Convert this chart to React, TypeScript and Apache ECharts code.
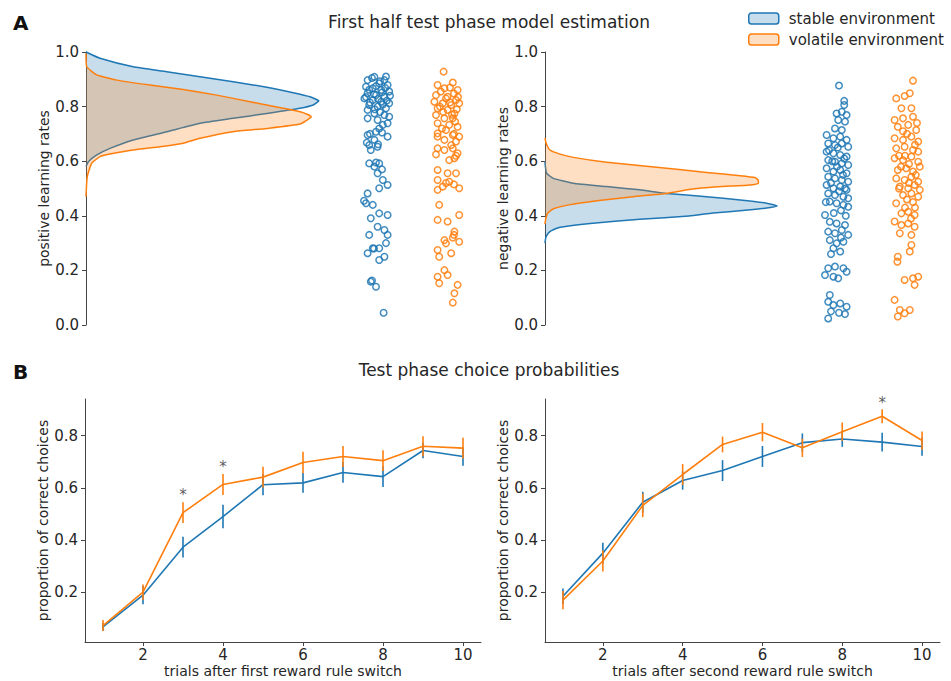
import React, { useEffect, useRef } from "react";
import * as echarts from "echarts";

const BLUE = "#1f77b4";
const ORANGE = "#ff7f0e";
const BLUE_FILL = "rgba(31,119,180,0.25)";
const ORANGE_FILL = "rgba(255,127,14,0.25)";
const FONT = "DejaVu Sans";
const TXT = "#262626";
const AXIS = "#444";

const STABLE = "stable environment";
const VOLATILE = "volatile environment";

// ---- Panel A: KDE curves, [learning rate, density] ----
const posStableKde = [
  [1.0, 0.0], [0.977, 0.35], [0.946, 1.18], [0.928, 2.02], [0.909, 2.85], [0.891, 3.68],
  [0.871, 4.52], [0.851, 5.18], [0.836, 5.6], [0.821, 5.82], [0.806, 5.68], [0.794, 5.35],
  [0.775, 4.52], [0.757, 3.68], [0.739, 2.85], [0.708, 2.02], [0.678, 1.18], [0.647, 0.6],
  [0.623, 0.27], [0.598, 0.06], [0.58, 0.0],
];
const posVolatileKde = [
  [0.995, 0.0], [0.946, 0.02], [0.916, 0.27], [0.897, 0.77], [0.879, 1.6], [0.863, 2.43],
  [0.842, 3.27], [0.818, 4.1], [0.794, 4.93], [0.778, 5.43], [0.763, 5.63], [0.736, 5.35],
  [0.72, 4.52], [0.708, 3.68], [0.684, 2.85], [0.665, 2.4], [0.653, 1.85], [0.641, 1.18],
  [0.626, 0.6], [0.617, 0.35], [0.592, 0.14], [0.543, 0.03], [0.47, 0.0],
];
const negStableKde = [
  [0.6, 0.0], [0.58, 0.01], [0.556, 0.04], [0.537, 0.21], [0.519, 0.71], [0.507, 1.54],
  [0.495, 2.37], [0.482, 3.04], [0.47, 4.04], [0.458, 4.88], [0.446, 5.54], [0.436, 5.8],
  [0.428, 5.5], [0.42, 5.0], [0.41, 4.2], [0.399, 3.6], [0.387, 2.37], [0.372, 1.13],
  [0.358, 0.375], [0.345, 0.15], [0.336, 0.08], [0.32, 0.02], [0.3, 0.0],
];
const negVolatileKde = [
  [0.685, 0.0], [0.665, 0.03], [0.641, 0.125], [0.626, 0.375], [0.614, 0.71], [0.596, 1.54],
  [0.578, 2.79], [0.559, 4.04], [0.547, 4.88], [0.54, 5.25], [0.531, 5.33], [0.519, 5.33],
  [0.513, 5.12], [0.506, 4.3], [0.496, 3.6], [0.482, 3.04], [0.47, 2.2], [0.455, 1.3],
  [0.44, 0.6], [0.425, 0.2], [0.41, 0.07], [0.39, 0.02], [0.37, 0.0],
];

// ---- Panel A: individual estimates, [jitter, learning rate] ----
const posStablePts = [
  [-0.09, 0.909], [-0.26, 0.897], [0.16, 0.897], [0.03, 0.885], [0.24, 0.879], [-0.3, 0.873],
  [-0.13, 0.867], [0.08, 0.861], [0.28, 0.855], [-0.26, 0.849], [-0.05, 0.842], [0.16, 0.836],
  [-0.34, 0.83], [-0.13, 0.824], [0.08, 0.818], [0.28, 0.812], [-0.22, 0.806], [-0.01, 0.8],
  [0.2, 0.794], [-0.26, 0.788], [-0.09, 0.775], [0.16, 0.769], [-0.26, 0.757], [0.28, 0.763],
  [-0.01, 0.751], [0.24, 0.739], [0.12, 0.733], [0.03, 0.72], [-0.05, 0.708], [-0.26, 0.696],
  [0.24, 0.69], [-0.09, 0.678], [-0.22, 0.659], [-0.01, 0.653], [-0.18, 0.641], [-0.22, 0.592],
  [0.03, 0.592], [-0.09, 0.58], [-0.01, 0.556], [0.12, 0.531], [0.24, 0.513], [0.03, 0.501],
  [-0.26, 0.482], [-0.3, 0.446], [-0.13, 0.44], [0.03, 0.409], [0.24, 0.403], [-0.18, 0.391],
  [-0.01, 0.36], [0.16, 0.348], [-0.22, 0.33], [0.24, 0.33], [-0.13, 0.281], [0.03, 0.281],
  [-0.26, 0.263], [0.16, 0.25], [0.03, 0.238], [-0.18, 0.159], [-0.05, 0.14], [0.14, 0.045],
  [-0.15, 0.905], [0.2, 0.91], [0.05, 0.893], [-0.05, 0.875], [0.18, 0.868], [-0.22, 0.862],
  [0.1, 0.852], [-0.1, 0.845], [0.3, 0.84], [-0.3, 0.835], [0.0, 0.828], [0.22, 0.822],
  [-0.2, 0.815], [0.12, 0.808], [-0.08, 0.79], [0.05, 0.78], [-0.2, 0.7], [0.1, 0.705],
  [-0.28, 0.668], [0.0, 0.662], [-0.05, 0.595], [0.1, 0.57], [-0.35, 0.455], [0.2, 0.3],
  [-0.1, 0.28], [-0.15, 0.163],
];
const posVolatilePts = [
  [-0.11, 0.928], [-0.26, 0.879], [0.12, 0.888], [-0.09, 0.867], [0.24, 0.861], [-0.3, 0.842],
  [-0.01, 0.836], [0.2, 0.824], [-0.34, 0.818], [-0.13, 0.812], [0.08, 0.806], [0.28, 0.812],
  [-0.26, 0.794], [-0.01, 0.788], [0.16, 0.775], [-0.3, 0.769], [-0.09, 0.757], [0.12, 0.757],
  [-0.26, 0.739], [0.03, 0.733], [0.24, 0.726], [-0.05, 0.714], [-0.26, 0.702], [0.12, 0.696],
  [-0.26, 0.69], [0.28, 0.69], [-0.09, 0.678], [0.2, 0.672], [0.08, 0.659], [-0.26, 0.647],
  [0.12, 0.647], [-0.09, 0.641], [0.24, 0.629], [0.16, 0.611], [0.03, 0.604], [-0.26, 0.568],
  [-0.01, 0.556], [0.2, 0.556], [-0.26, 0.531], [0.03, 0.525], [-0.13, 0.507], [0.28, 0.501],
  [-0.26, 0.495], [-0.22, 0.44], [0.28, 0.403], [-0.26, 0.385], [-0.01, 0.379], [0.16, 0.342],
  [-0.09, 0.311], [-0.26, 0.275], [0.28, 0.305], [0.08, 0.263], [-0.22, 0.25], [-0.05, 0.299],
  [-0.09, 0.201], [-0.26, 0.177], [-0.01, 0.183], [-0.22, 0.153], [0.24, 0.147], [0.16, 0.116],
  [0.12, 0.082], [0.05, 0.87], [-0.18, 0.855], [0.15, 0.848], [-0.05, 0.83], [0.25, 0.835],
  [-0.2, 0.8], [0.05, 0.815], [0.22, 0.79], [-0.12, 0.78], [0.1, 0.77], [-0.15, 0.72],
  [0.18, 0.745], [0.15, 0.7], [-0.3, 0.625], [0.2, 0.62], [0.15, 0.33], [0.12, 0.32],
  [-0.05, 0.52], [0.15, 0.515],
];
const negStablePts = [
  [0.05, 0.877], [0.18, 0.821], [0.18, 0.806], [-0.01, 0.775], [0.12, 0.781], [0.24, 0.769],
  [0.03, 0.751], [0.2, 0.745], [-0.05, 0.72], [0.12, 0.714], [-0.26, 0.696], [-0.09, 0.684],
  [0.08, 0.69], [0.24, 0.678], [-0.22, 0.665], [-0.05, 0.659], [0.12, 0.665], [0.28, 0.653],
  [-0.26, 0.635], [-0.09, 0.629], [0.08, 0.623], [0.24, 0.617], [-0.22, 0.604], [-0.05, 0.598],
  [0.12, 0.592], [0.28, 0.586], [-0.26, 0.574], [-0.09, 0.562], [0.08, 0.568], [0.24, 0.556],
  [-0.22, 0.543], [-0.05, 0.537], [0.12, 0.531], [0.28, 0.525], [-0.26, 0.513], [-0.09, 0.501],
  [0.08, 0.507], [0.24, 0.495], [-0.22, 0.482], [-0.05, 0.476], [0.16, 0.47], [0.28, 0.464],
  [-0.18, 0.452], [-0.01, 0.446], [0.16, 0.44], [0.28, 0.433], [-0.3, 0.403], [-0.18, 0.378],
  [-0.01, 0.372], [0.2, 0.366], [-0.22, 0.342], [-0.05, 0.336], [0.12, 0.348], [0.28, 0.33],
  [-0.18, 0.311], [-0.01, 0.299], [0.16, 0.305], [-0.09, 0.281], [0.08, 0.269], [-0.22, 0.208],
  [-0.05, 0.214], [0.16, 0.208], [0.24, 0.195], [-0.3, 0.183], [-0.09, 0.177], [0.03, 0.171],
  [-0.18, 0.11], [-0.22, 0.085], [-0.09, 0.073], [0.08, 0.079], [0.24, 0.067], [-0.22, 0.024],
  [0.2, 0.04], [-0.15, 0.05], [0.05, 0.045], [0.0, 0.58], [0.15, 0.55], [-0.15, 0.52],
  [0.05, 0.49], [-0.12, 0.6], [0.18, 0.61], [-0.2, 0.64], [0.02, 0.65], [0.2, 0.5],
  [-0.28, 0.45], [0.1, 0.42], [0.22, 0.4], [-0.08, 0.41], [0.1, 0.32], [-0.15, 0.26],
];
const negVolatilePts = [
  [0.15, 0.895], [0.07, 0.849], [-0.27, 0.83], [-0.06, 0.839], [-0.14, 0.794], [0.11, 0.794],
  [-0.31, 0.751], [-0.1, 0.757], [0.15, 0.763], [-0.23, 0.726], [0.03, 0.733], [0.23, 0.714],
  [-0.31, 0.684], [-0.1, 0.678], [0.11, 0.69], [0.28, 0.672], [-0.27, 0.647], [-0.06, 0.653],
  [0.15, 0.641], [0.28, 0.635], [-0.31, 0.611], [-0.1, 0.604], [0.11, 0.617], [0.28, 0.598],
  [-0.23, 0.568], [-0.02, 0.574], [0.15, 0.562], [0.32, 0.58], [-0.27, 0.537], [-0.06, 0.531],
  [0.11, 0.543], [0.28, 0.525], [-0.18, 0.507], [0.03, 0.501], [0.19, 0.513], [0.32, 0.495],
  [-0.1, 0.476], [0.11, 0.482], [0.28, 0.47], [-0.27, 0.446], [-0.14, 0.409], [0.03, 0.415],
  [0.19, 0.403], [-0.31, 0.379], [-0.14, 0.366], [0.03, 0.372], [0.19, 0.36], [-0.18, 0.336],
  [0.11, 0.33], [0.11, 0.293], [0.07, 0.269], [-0.23, 0.25], [-0.24, 0.232], [-0.06, 0.165],
  [0.15, 0.171], [0.28, 0.177], [0.19, 0.147], [-0.31, 0.092], [-0.18, 0.055], [-0.06, 0.043],
  [0.07, 0.055], [-0.23, 0.031], [0.0, 0.7], [0.2, 0.66], [-0.2, 0.62], [0.05, 0.59],
  [-0.15, 0.58], [0.22, 0.55], [-0.2, 0.5], [0.0, 0.46], [0.2, 0.43], [-0.05, 0.62],
  [0.05, 0.52], [-0.1, 0.71], [0.25, 0.74], [-0.05, 0.43], [0.15, 0.45], [0.1, 0.39],
];

// ---- Panel B: choice probabilities ----
const trials = [1, 2, 3, 4, 5, 6, 7, 8, 9, 10];
const firstStable = [0.068, 0.189, 0.373, 0.49, 0.612, 0.619, 0.659, 0.643, 0.743, 0.72];
const firstStableErr = [0.015, 0.035, 0.04, 0.045, 0.04, 0.038, 0.04, 0.04, 0.03, 0.035];
const firstVolatile = [0.073, 0.201, 0.505, 0.613, 0.641, 0.697, 0.72, 0.704, 0.759, 0.752];
const firstVolatileErr = [0.021, 0.029, 0.04, 0.04, 0.04, 0.041, 0.04, 0.04, 0.038, 0.04];
const secondStable = [0.185, 0.35, 0.545, 0.628, 0.666, 0.72, 0.773, 0.787, 0.775, 0.758];
const secondStableErr = [0.03, 0.04, 0.04, 0.035, 0.04, 0.04, 0.035, 0.03, 0.036, 0.035];
const secondVolatile = [0.17, 0.32, 0.533, 0.651, 0.766, 0.813, 0.753, 0.815, 0.874, 0.781];
const secondVolatileErr = [0.035, 0.04, 0.045, 0.04, 0.03, 0.035, 0.035, 0.035, 0.027, 0.035];
const firstStars = [[3, 0.59], [4, 0.7]];
const secondStars = [[9, 0.945]];

const STRIP_STABLE = 7.3;
const STRIP_VOLATILE = 9.05;

function kdeSeries(name: string, curve: number[][], color: string, fill: string, idx: number, z: number) {
  const pts = curve.map(([v, d]) => [d, v]);
  return {
    type: "custom",
    name,
    xAxisIndex: idx,
    yAxisIndex: idx,
    z,
    silent: true,
    clip: false,
    itemStyle: { color: fill, borderColor: color },
    data: pts,
    encode: { x: 0, y: 1 },
    renderItem: (params: any, api: any) => {
      if (params.dataIndex !== 0) return null;
      const p = pts.map((q) => api.coord(q));
      const b0 = api.coord([0, pts[0][1]]);
      const b1 = api.coord([0, pts[pts.length - 1][1]]);
      return {
        type: "group",
        children: [
          { type: "polygon", shape: { points: [b0, ...p, b1], smooth: 0.15 }, style: { fill, stroke: null } },
          { type: "polyline", shape: { points: p, smooth: 0.15 }, style: { fill: null, stroke: color, lineWidth: 1.5 } },
        ],
      };
    },
  };
}

function stripSeries(name: string, pts: number[][], center: number, color: string, idx: number) {
  return {
    type: "scatter",
    name,
    xAxisIndex: idx,
    yAxisIndex: idx,
    z: 5,
    symbol: "circle",
    symbolSize: 6.5,
    itemStyle: { color: "rgba(255,255,255,0)", borderColor: color, borderWidth: 1.5, opacity: 0.85 },
    data: pts.map(([j, v]) => [center + j, v]),
  };
}

function lineSeries(name: string, vals: number[], color: string, idx: number, z: number) {
  return {
    type: "line",
    name,
    xAxisIndex: idx,
    yAxisIndex: idx,
    z,
    symbol: "none",
    lineStyle: { color, width: 1.6 },
    itemStyle: { color },
    data: trials.map((t, i) => [t, vals[i]]),
  };
}

function errSeries(name: string, vals: number[], errs: number[], color: string, idx: number, z: number) {
  return {
    type: "custom",
    name,
    xAxisIndex: idx,
    yAxisIndex: idx,
    z,
    silent: true,
    itemStyle: { color },
    data: trials.map((t, i) => [t, vals[i] - errs[i], vals[i] + errs[i]]),
    encode: { x: 0, y: [1, 2] },
    renderItem: (params: any, api: any) => {
      const lo = api.coord([api.value(0), api.value(1)]);
      const hi = api.coord([api.value(0), api.value(2)]);
      return {
        type: "line",
        shape: { x1: lo[0], y1: lo[1], x2: hi[0], y2: hi[1] },
        style: { stroke: color, lineWidth: 1.6 },
      };
    },
  };
}

function starSeries(pts: number[][], idx: number) {
  return {
    type: "scatter",
    name: "significance",
    xAxisIndex: idx,
    yAxisIndex: idx,
    clip: false,
    z: 10,
    symbolSize: 1,
    itemStyle: { color: "rgba(0,0,0,0)" },
    label: { show: true, position: "inside", formatter: "*", fontSize: 15, color: "#333", fontFamily: FONT, offset: [0, 5] },
    data: pts,
  };
}

const tickLabel = { fontSize: 15, color: TXT, fontFamily: FONT };
const nameStyle = { fontSize: 14, color: TXT, fontFamily: FONT };

function aYAxis(name: string, idx: number) {
  return {
    type: "value",
    gridIndex: idx,
    min: 0,
    max: 1,
    interval: 0.2,
    name,
    nameLocation: "middle",
    nameGap: 34,
    nameTextStyle: nameStyle,
    axisLine: { show: true, lineStyle: { color: AXIS, width: 1 } },
    axisTick: { show: true, length: 4, lineStyle: { color: AXIS } },
    axisLabel: { ...tickLabel, margin: 7, formatter: (v: number) => v.toFixed(1) },
    splitLine: { show: false },
  };
}

function bYAxis(idx: number) {
  return {
    type: "value",
    gridIndex: idx,
    min: 0.01,
    max: 0.94,
    name: "proportion of correct choices",
    nameLocation: "middle",
    nameGap: 34,
    nameTextStyle: nameStyle,
    axisLine: { show: true, lineStyle: { color: AXIS, width: 1 } },
    axisTick: { show: true, length: 4, lineStyle: { color: AXIS }, customValues: [0.2, 0.4, 0.6, 0.8] },
    axisLabel: { ...tickLabel, margin: 7, customValues: [0.2, 0.4, 0.6, 0.8], formatter: (v: number) => v.toFixed(1) },
    splitLine: { show: false },
  };
}

function bXAxis(name: string, idx: number) {
  return {
    type: "value",
    gridIndex: idx,
    min: 0.55,
    max: 10.45,
    name,
    nameLocation: "middle",
    nameGap: 22,
    nameTextStyle: nameStyle,
    axisLine: { show: true, onZero: false, lineStyle: { color: AXIS, width: 1 } },
    axisTick: { show: true, length: 4, lineStyle: { color: AXIS }, customValues: [2, 4, 6, 8, 10] },
    axisLabel: { ...tickLabel, margin: 5, customValues: [2, 4, 6, 8, 10], formatter: (v: number) => String(v) },
    splitLine: { show: false },
  };
}

export default function App() {
  const ref = useRef<HTMLDivElement>(null);
  useEffect(() => {
    if (!ref.current) return;
    const chart = echarts.init(ref.current, null, { renderer: "svg" });
    const option: any = {
      animation: false,
      backgroundColor: "#ffffff",
      textStyle: { fontFamily: FONT },
      legend: {
        orient: "vertical",
        left: 743,
        top: 6,
        itemWidth: 30,
        itemHeight: 11,
        itemGap: 6,
        selectedMode: false,
        textStyle: { fontSize: 15, color: TXT, fontFamily: FONT, padding: [0, 0, 0, 5] },
        data: [
          { name: STABLE, icon: "roundRect", itemStyle: { color: BLUE_FILL, borderColor: BLUE, borderWidth: 1.5 } },
          { name: VOLATILE, icon: "roundRect", itemStyle: { color: ORANGE_FILL, borderColor: ORANGE, borderWidth: 1.5 } },
        ],
      },
      graphic: [
        { type: "text", x: 13, y: 23, style: { text: "A", font: `bold 20px "${FONT}"`, fill: "#111", textVerticalAlign: "middle" } },
        { type: "text", x: 13, y: 372, style: { text: "B", font: `bold 20px "${FONT}"`, fill: "#111", textVerticalAlign: "middle" } },
        { type: "text", x: 489, y: 22, style: { text: "First half test phase model estimation", font: `17px "${FONT}"`, fill: TXT, textAlign: "center", textVerticalAlign: "middle" } },
        { type: "text", x: 489, y: 370, style: { text: "Test phase choice probabilities", font: `17px "${FONT}"`, fill: TXT, textAlign: "center", textVerticalAlign: "middle" } },
      ],
      grid: [
        { left: 86, top: 52, width: 400, height: 273 },
        { left: 545, top: 52, width: 400, height: 273 },
        { left: 85, top: 399, width: 396, height: 243 },
        { left: 545, top: 399, width: 395, height: 243 },
      ],
      xAxis: [
        { type: "value", gridIndex: 0, min: 0, max: 10, show: false },
        { type: "value", gridIndex: 1, min: 0, max: 10, show: false },
        bXAxis("trials after first reward rule switch", 2),
        bXAxis("trials after second reward rule switch", 3),
      ],
      yAxis: [
        aYAxis("positive learning rates", 0),
        aYAxis("negative learning rates", 1),
        bYAxis(2),
        bYAxis(3),
      ],
      series: [
        kdeSeries(STABLE, posStableKde, BLUE, BLUE_FILL, 0, 1),
        kdeSeries(VOLATILE, posVolatileKde, ORANGE, ORANGE_FILL, 0, 2),
        stripSeries(STABLE, posStablePts, STRIP_STABLE, BLUE, 0),
        stripSeries(VOLATILE, posVolatilePts, STRIP_VOLATILE, ORANGE, 0),
        kdeSeries(STABLE, negStableKde, BLUE, BLUE_FILL, 1, 1),
        kdeSeries(VOLATILE, negVolatileKde, ORANGE, ORANGE_FILL, 1, 2),
        stripSeries(STABLE, negStablePts, STRIP_STABLE, BLUE, 1),
        stripSeries(VOLATILE, negVolatilePts, STRIP_VOLATILE, ORANGE, 1),
        lineSeries(STABLE, firstStable, BLUE, 2, 3),
        errSeries(STABLE, firstStable, firstStableErr, BLUE, 2, 3),
        lineSeries(VOLATILE, firstVolatile, ORANGE, 2, 4),
        errSeries(VOLATILE, firstVolatile, firstVolatileErr, ORANGE, 2, 4),
        starSeries(firstStars, 2),
        lineSeries(STABLE, secondStable, BLUE, 3, 3),
        errSeries(STABLE, secondStable, secondStableErr, BLUE, 3, 3),
        lineSeries(VOLATILE, secondVolatile, ORANGE, 3, 4),
        errSeries(VOLATILE, secondVolatile, secondVolatileErr, ORANGE, 3, 4),
        starSeries(secondStars, 3),
      ],
    };
    chart.setOption(option);
    return () => chart.dispose();
  }, []);
  return <div ref={ref} style={{ position: "fixed", left: 0, top: 0, width: 951, height: 681, background: "#fff" }} />;
}
